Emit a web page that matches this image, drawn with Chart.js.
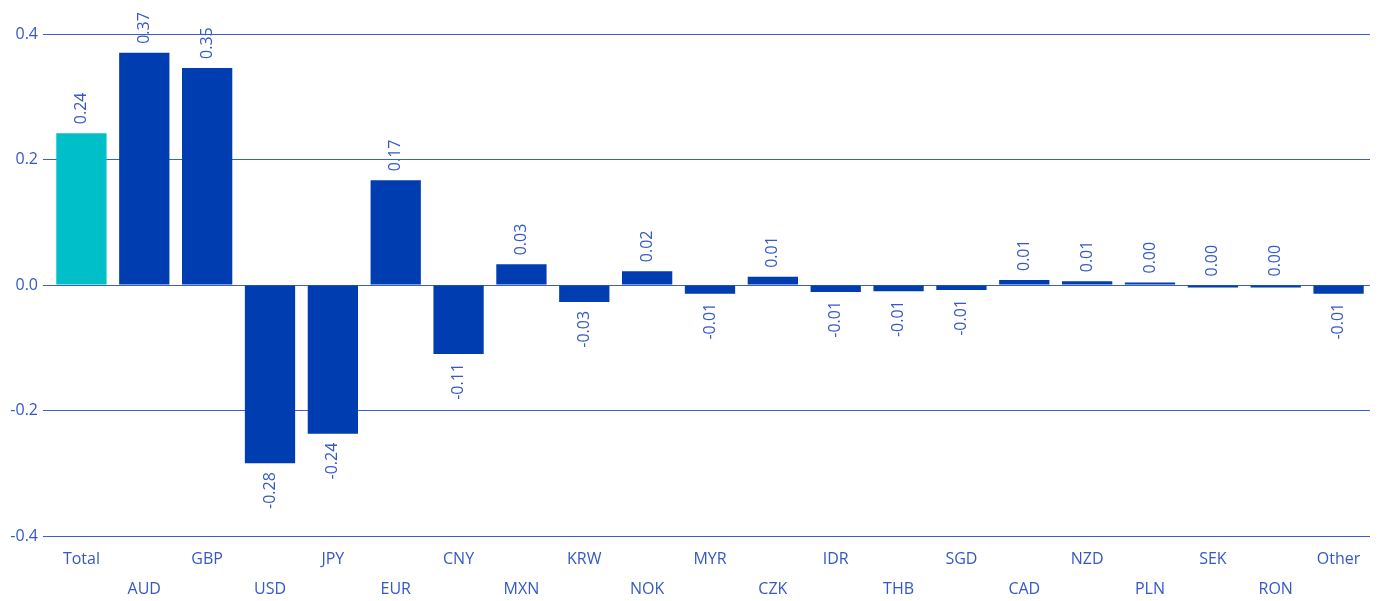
<!DOCTYPE html>
<html>
<head>
<meta charset="utf-8">
<script src="https://cdn.jsdelivr.net/npm/chart.js@4.4.0/dist/chart.umd.min.js"></script>
<style>
  html, body { margin: 0; padding: 0; background: #fff; }
  #wrap { width: 1378px; height: 601px; }
</style>
</head>
<body>
<div id="wrap"><canvas id="myCanvas"></canvas></div>
<script>
const monedas = ["Total", "AUD", "GBP", "USD", "JPY", "EUR", "CNY", "MXN", "KRW", "NOK",
  "MYR", "CZK", "IDR", "THB", "SGD", "CAD", "NZD", "PLN", "SEK", "RON", "Other"];
const valores = [0.242, 0.370, 0.346, -0.284, -0.237, 0.167, -0.110, 0.033, -0.027, 0.022,
  -0.014, 0.013, -0.011, -0.010, -0.008, 0.008, 0.006, 0.004, -0.004, -0.004, -0.014];
const ticksY = [-0.4, -0.2, 0.0, 0.2, 0.4];

const azul = "#003db1";
const turquesa = "#00bfc8";
const textoAzul = "#3458c6";
const lineaAzul = "#3a5fcd";

const fuente = "'Open Sans', 'DejaVu Sans', sans-serif";

const formato = (v) => {
  let s = v.toFixed(2);
  if (s === "-0.00") s = "0.00";
  return s;
};

const etiquetas = {
  id: "etiquetas",
  afterDatasetsDraw(chart) {
    const ctx = chart.ctx;
    const meta = chart.getDatasetMeta(0);
    ctx.save();
    ctx.fillStyle = textoAzul;
    ctx.font = "16px " + fuente;
    ctx.textBaseline = "middle";
    meta.data.forEach((bar, i) => {
      const txt = formato(valores[i]);
      const arriba = !txt.startsWith("-");
      ctx.save();
      if (arriba) {
        ctx.translate(bar.x, Math.min(bar.y, bar.base) - 9);
        ctx.rotate(-Math.PI / 2);
        ctx.textAlign = "left";
      } else {
        ctx.translate(bar.x, Math.max(bar.y, bar.base) + 9);
        ctx.rotate(-Math.PI / 2);
        ctx.textAlign = "right";
      }
      ctx.fillText(txt, 0, 0);
      ctx.restore();
    });
    ctx.restore();
  }
};

let canvas = document.getElementById("myCanvas");

window.chart = new Chart(canvas, {
  type: "bar",
  data: {
    labels: monedas,
    datasets: [{
      data: valores,
      backgroundColor: monedas.map((m) => m === "Total" ? turquesa : azul),
      borderWidth: 0,
      barPercentage: 0.8,
      categoryPercentage: 1.0
    }]
  },
  options: {
    responsive: true,
    maintainAspectRatio: false,
    animation: false,
    layout: { padding: { top: 34, right: 8, left: 0, bottom: -3 } },
    plugins: {
      legend: { display: false },
      tooltip: { enabled: false }
    },
    scales: {
      x: {
        grid: { display: false },
        border: { display: false },
        ticks: {
          color: textoAzul,
          font: { family: fuente, size: 16, lineHeight: 1.875 },
          padding: 0,
          maxRotation: 0,
          minRotation: 0,
          autoSkip: false,
          callback: function (val, i) {
            const m = monedas[i];
            return i % 2 === 1 ? ["", m] : m;
          }
        }
      },
      y: {
        min: -0.4,
        max: 0.4,
        afterFit: (scale) => { scale.width = 50; },
        afterBuildTicks: (scale) => { scale.ticks = ticksY.map((v) => ({ value: v })); },
        grid: { color: lineaAzul, lineWidth: 1, tickLength: 7, drawTicks: true },
        border: { display: false },
        ticks: {
          color: textoAzul,
          font: { family: fuente, size: 16 },
          padding: 5,
          callback: (v) => v.toFixed(1)
        }
      }
    }
  },
  plugins: [etiquetas]
});
</script>
</body>
</html>
